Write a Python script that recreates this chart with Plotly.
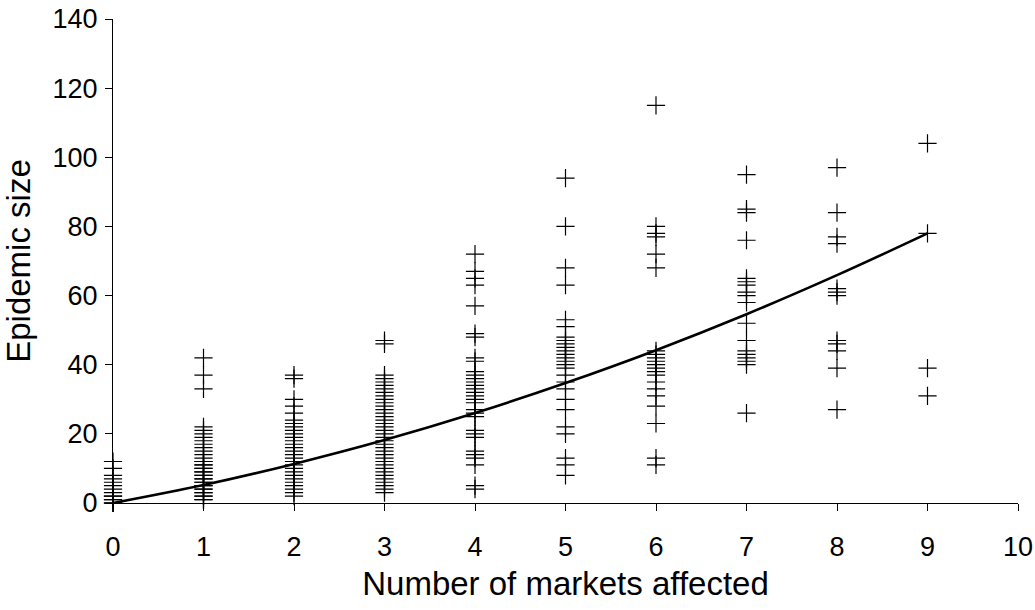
import plotly.graph_objects as go

# Epidemic sizes observed for each number of markets affected
markets = [0, 1, 2, 3, 4, 5, 6, 7, 8, 9]
size_0 = [12, 10, 8, 7, 6, 5, 4, 3, 2, 2, 1, 1, 0, 0, 0]
size_1 = [42, 37, 33, 22, 21, 20, 19, 18, 17, 16, 15, 14, 13, 12, 12, 11, 11, 10, 10,
          9, 9, 8, 8, 7, 7, 6, 6, 5, 5, 4, 4, 3, 3, 2, 2, 1, 1]
size_2 = [37, 36, 30, 28, 26, 24, 23, 22, 21, 20, 19, 18, 17, 16, 15, 14, 13, 12, 11,
          10, 9, 8, 7, 6, 5, 4, 3, 2]
size_3 = [47, 46, 37, 36, 35, 34, 33, 32, 31, 30, 29, 28, 27, 26, 25, 24, 23, 22, 21,
          20, 19, 18, 17, 16, 15, 14, 13, 12, 11, 10, 9, 8, 7, 6, 5, 4, 3]
size_4 = [72, 67, 65, 63, 57, 49, 48, 42, 41, 38, 37, 36, 35, 34, 33, 32, 31, 30, 29,
          27, 26, 25, 21, 20, 19, 15, 14, 13, 11, 5, 4]
size_5 = [94, 80, 68, 63, 53, 51, 48, 47, 46, 45, 44, 43, 42, 41, 40, 39, 37, 35, 33,
          30, 27, 22, 20, 13, 11, 8]
size_6 = [115, 80, 78, 77, 72, 68, 44, 43, 42, 41, 40, 39, 38, 37, 35, 33, 31, 28, 23, 13, 11]
size_7 = [95, 85, 84, 76, 65, 64, 63, 61, 60, 58, 52, 47, 44, 43, 42, 41, 40, 26]
size_8 = [97, 84, 77, 75, 62, 61, 60, 47, 46, 44, 39, 27]
size_9 = [104, 78, 39, 31]

# Fitted trend line read at each integer
trend_x = [0, 1, 2, 3, 4, 5, 6, 7, 8, 9]
trend_y = [0, 5.2, 11.3, 18.2, 26, 34.7, 44.2, 54.6, 65.9, 78]

x_ticks = [0, 1, 2, 3, 4, 5, 6, 7, 8, 9, 10]
y_ticks = [0, 20, 40, 60, 80, 100, 120, 140]

columns = [size_0, size_1, size_2, size_3, size_4, size_5, size_6, size_7, size_8, size_9]
xs, ys = [], []
for m, col in zip(markets, columns):
    xs.extend([m] * len(col))
    ys.extend(col)

fig = go.Figure()
fig.add_trace(go.Scatter(
    x=xs, y=ys, mode="markers", cliponaxis=False,
    marker=dict(symbol="cross-thin", size=13, line=dict(color="black", width=1.2), color="black"),
    showlegend=False,
))
fig.add_trace(go.Scatter(
    x=trend_x, y=trend_y, mode="lines", line=dict(color="black", width=2.6, shape="spline"),
    cliponaxis=False, showlegend=False,
))

family = "Liberation Sans, Arial, sans-serif"
tick_font = dict(family=family, size=27, color="black")
title_font = dict(family=family, size=33, color="black")
fig.update_layout(
    width=1035, height=610,
    margin=dict(l=113, r=17, t=19, b=107, autoexpand=False),
    plot_bgcolor="white", paper_bgcolor="white",
    font=dict(family=family, color="black"),
    xaxis=dict(
        range=[0, 10], tickvals=x_ticks, showgrid=False, zeroline=False,
        showline=True, linecolor="black", linewidth=1, automargin=False,
        ticks="outside", ticklen=7, tickcolor="black", tickwidth=1,
        ticklabelstandoff=13, tickfont=tick_font, ticklabeloverflow="allow",
        title=dict(text="Number of markets affected", font=title_font, standoff=10),
    ),
    yaxis=dict(
        range=[0, 140], tickvals=y_ticks, showgrid=False, zeroline=False,
        showline=True, linecolor="black", linewidth=1, automargin=False,
        ticks="outside", ticklen=7, tickcolor="black", tickwidth=1,
        ticklabelstandoff=2, tickfont=tick_font, ticklabeloverflow="allow",
        title=dict(text="Epidemic size", font=title_font, standoff=11),
    ),
)

fig.write_html(
    "out.html",
    config={"displayModeBar": False},
    post_script="document.body.style.margin='0px';document.body.style.overflow='hidden';",
)
